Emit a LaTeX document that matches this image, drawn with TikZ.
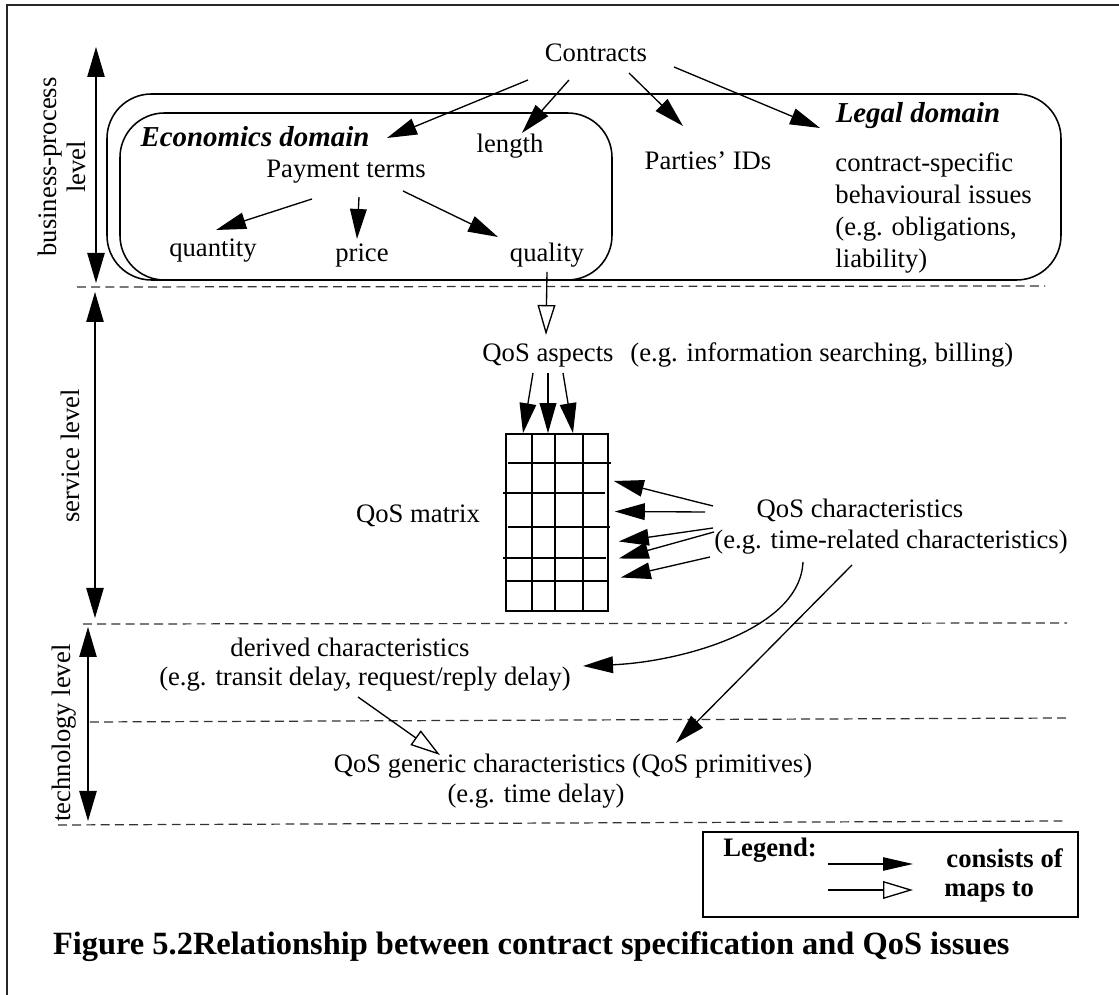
\documentclass[tikz,border=0pt]{standalone}
\usepackage{fontspec}
\setmainfont{Liberation Serif}
\usetikzlibrary{arrows.meta}
\begin{document}
\begin{tikzpicture}[x=0.45pt,y=-0.45pt,
  every node/.style={inner sep=0pt, font=\fontsize{12}{14.4}\selectfont},
  lbl/.style={anchor=base},
  domaintitle/.style={anchor=base, font=\fontsize{13}{15}\selectfont\bfseries\itshape},
  boldlbl/.style={anchor=base west, font=\fontsize{12}{14.4}\selectfont\bfseries},
  cons/.style={line width=0.6pt, -{Triangle[length=13.5pt,width=7.5pt]}},
  maps/.style={line width=0.6pt, -{Triangle[open,length=13.5pt,width=8pt]}},
  levelarrow/.style={line width=0.6pt,
    {Triangle[length=13.5pt,width=7.8pt]}-{Triangle[length=13.5pt,width=7.8pt]}},
  levellabel/.style={rotate=90, align=center, font=\fontsize{12}{13}\selectfont},
  boundary/.style={dash pattern=on 4pt off 2.4pt, line width=0.55pt, black!80},
  domainbox/.style={line width=0.7pt, rounded corners=20pt},
  gridline/.style={line width=0.7pt},
]

\useasboundingbox (0,0) rectangle (1119,995);

% frame
\draw[line width=0.9pt, black!85] (7,995) -- (7,5) -- (1119,5);

% level boundaries
\draw[boundary] (77,287) -- (1045,286);
\draw[boundary] (83,624) -- (1067,623);
\draw[boundary] (90,722) -- (1067,718);
\draw[boundary] (58,825) -- (1067,821);

% domain boxes
\draw[domainbox] (107,94) rectangle (1061,280);
\draw[domainbox] (120,113) rectangle (612,280);

% business-process level
\node[lbl] (contracts) at (596,62) {Contracts};
\node[domaintitle] (econ) at (255,147) {Economics domain};
\node[lbl] (length) at (510,153) {length};
\node[lbl] (payment) at (346,178) {Payment terms};
\node[lbl] (parties) at (708,170) {Parties’ IDs};
\node[domaintitle] (legal) at (918,123) {Legal domain};
\node[anchor=north west, align=left] (legaltext) at (835,152)
  {contract-specific\\behavioural issues\\(e.g. obligations,\\liability)};
\node[lbl] (quantity) at (213,257) {quantity};
\node[lbl] (price) at (362,262) {price};
\node[lbl] (quality) at (547,262) {quality};

\draw[cons] ([shift={(-68,18)}]contracts.base) -- ([shift={(132,-9)}]econ.base);
\draw[cons] ([shift={(-27,18)}]contracts.base) -- ([shift={(12,-20)}]length.base);
\draw[cons] ([shift={(33,11)}]contracts.base) -- ([shift={(-25,-44)}]parties.base);
\draw[cons] ([shift={(78,5)}]contracts.base) -- ([shift={(-98,5)}]legal.base);
\draw[cons] ([shift={(-34,21)}]payment.base) -- ([shift={(3,-27)}]quantity.base);
\draw[cons] ([shift={(13,19)}]payment.base) -- ([shift={(-5,-23)}]price.base);
\draw[cons] ([shift={(57,13)}]payment.base) -- ([shift={(-49,-25)}]quality.base);

% service level
\node[lbl] (qosasp) at (548,362) {QoS aspects};
\node[anchor=base west] (qosaspeg) at (630,362) {(e.g. information searching, billing)};
\draw[maps] ([shift={(0,10)}]quality.base) -- ([shift={(-2,-27)}]qosasp.base);

\node[draw, line width=0.7pt, minimum width=45.9pt, minimum height=79.65pt] (grid) at (557,522.5) {};
\foreach \gx in {532,555,583} \draw[gridline] (\gx,434) -- (\gx,611);
\draw[gridline] (508,463) -- (611,463);
\draw[gridline] (503,493) -- (605,493);
\draw[gridline] (508,527) -- (610,527);
\draw[gridline] (503,558) -- (606,558);
\draw[gridline] (506,581) -- (608,581);
\node[lbl] (qosmat) at (418,523) {QoS matrix};

\draw[cons] ([shift={(-15,11)}]qosasp.base) -- ([shift={(-34,0)}]grid.north);
\draw[cons] ([shift={(0,11)}]qosasp.base) -- ([shift={(-9,0)}]grid.north);
\draw[cons] ([shift={(15,11)}]qosasp.base) -- ([shift={(16,0)}]grid.north);

\node[lbl] (qosch) at (860,518) {QoS characteristics};
\node[lbl] (qoscheg) at (891,549) {(e.g. time-related characteristics)};

\draw[cons] ([shift={(-147,-12)}]qosch.base) -- ([shift={(5,-41.5)}]grid.east);
\draw[cons] ([shift={(-155,-6)}]qosch.base) -- ([shift={(6,-11)}]grid.east);
\draw[cons] ([shift={(-147,10)}]qosch.base) -- ([shift={(10,19)}]grid.east);
\draw[cons] ([shift={(-146,14)}]qosch.base) -- ([shift={(10,36)}]grid.east);
\draw[cons] ([shift={(-150,39)}]qosch.base) -- ([shift={(12,55)}]grid.east);

% technology level
\node[lbl] (derived) at (350,657) {derived characteristics};
\node[lbl] (derivedeg) at (365,686) {(e.g. transit delay, request/reply delay)};
\node[lbl] (generic) at (573,773) {QoS generic characteristics (QoS primitives)};
\node[lbl] (genericeg) at (536,803) {(e.g. time delay)};

\draw[cons] ([shift={(-88,13)}]qoscheg.base) .. controls (800,630) and (680,662) ..
  ([shift={(218,-20)}]derivedeg.base);
\draw[cons] ([shift={(-39,16)}]qoscheg.base) -- ([shift={(103,-30)}]generic.base);
\draw[maps] ([shift={(-7,11)}]derivedeg.base) -- ([shift={(-133,-18)}]generic.base);

% level markers
\coordinate (bptop) at (96,47);  \coordinate (bpbot) at (96,283);
\coordinate (svtop) at (95,292); \coordinate (svbot) at (95,618);
\coordinate (tctop) at (88,627); \coordinate (tcbot) at (88,821);
\draw[levelarrow] (bptop) -- (bpbot);
\draw[levelarrow] (svtop) -- (svbot);
\draw[levelarrow] (tctop) -- (tcbot);
\node[levellabel] (bplabel) at (62,167) {business-process\\level};
\node[levellabel] (svlabel) at (70,456) {service level};
\node[levellabel] (tclabel) at (64,733) {technology level};

% legend
\draw[line width=0.7pt] (703,832) rectangle (1078,917);
\node[boldlbl] (legend) at (723,857) {Legend:};
\coordinate (conss) at (828,864); \coordinate (conse) at (913,864);
\coordinate (mapss) at (828,890); \coordinate (mapse) at (913,890);
\draw[line width=0.6pt, -{Triangle[length=13.5pt,width=6pt]}] (conss) -- (conse);
\draw[line width=0.6pt, -{Triangle[open,length=13.5pt,width=8pt]}] (mapss) -- (mapse);
\node[boldlbl] (consists) at (946,868) {consists of};
\node[boldlbl] (mapsto) at (944,897) {maps to};

% caption
\node[anchor=base east, font=\fontsize{14.6}{17}\selectfont\bfseries] (caption) at (1010,955)
  {Figure 5.2Relationship between contract specification and QoS issues};
\end{tikzpicture}
\end{document}
